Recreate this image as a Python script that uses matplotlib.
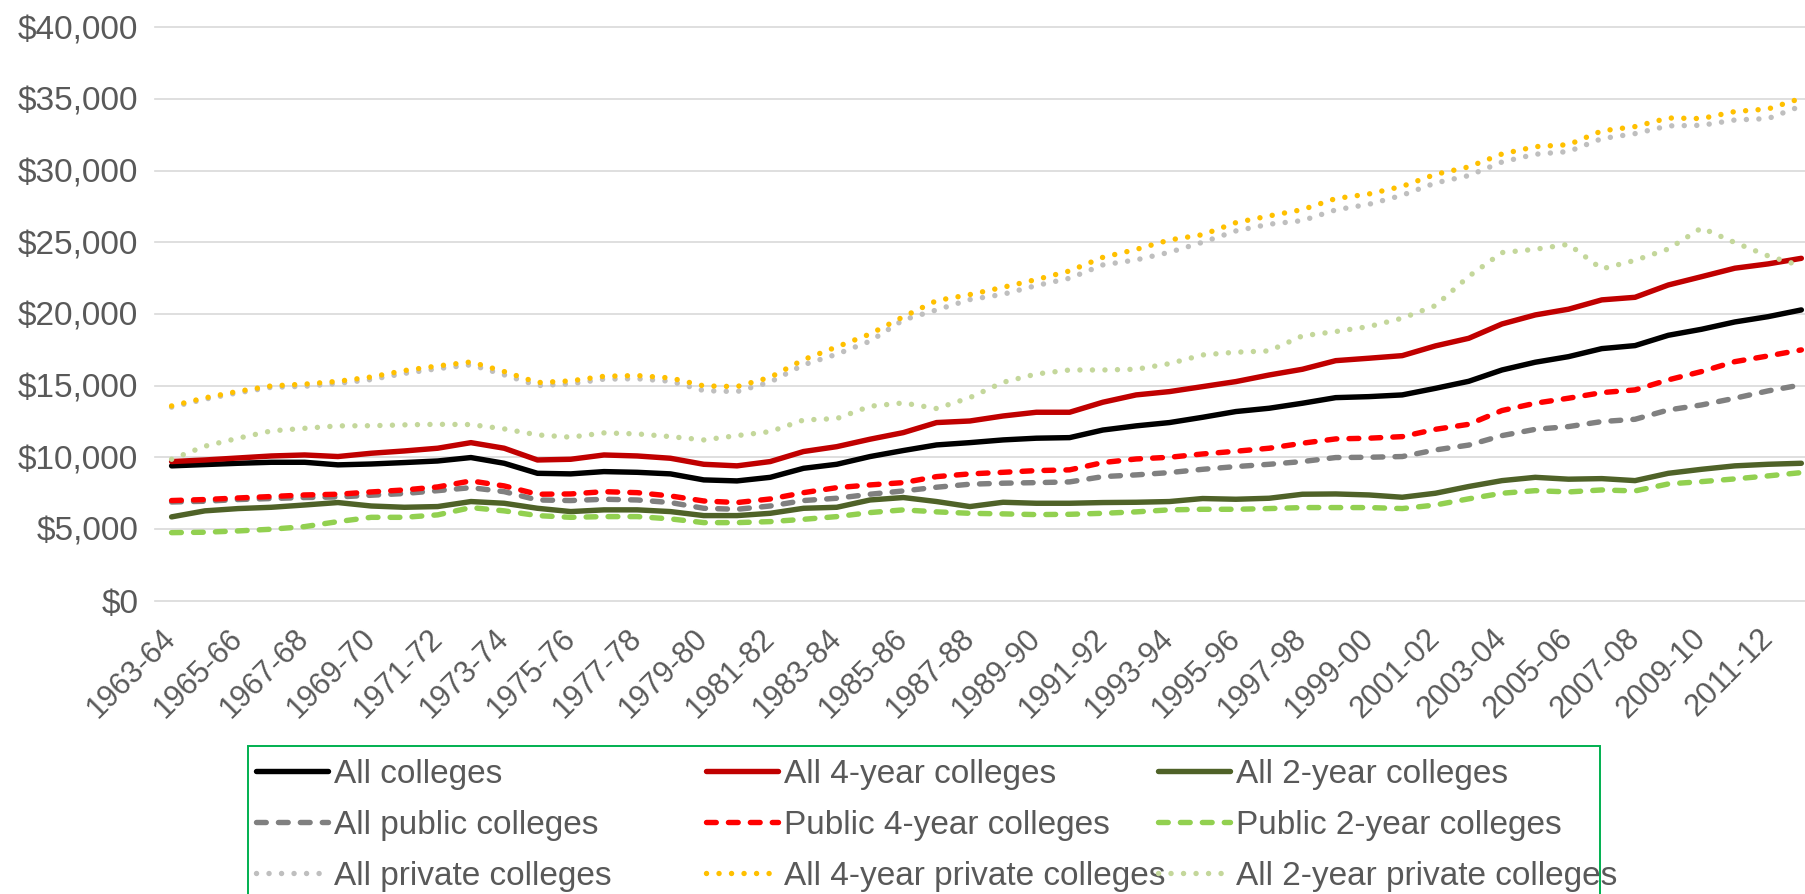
import numpy as np
import matplotlib.pyplot as plt
from matplotlib.patches import Rectangle
from matplotlib.ticker import StrMethodFormatter

plt.rcParams['font.family'] = ['Liberation Sans', 'DejaVu Sans']

# academic years (categories)
years = ["1963-64", "1964-65", "1965-66", "1966-67", "1967-68", "1968-69", "1969-70", "1970-71",
         "1971-72", "1972-73", "1973-74", "1974-75", "1975-76", "1976-77", "1977-78", "1978-79",
         "1979-80", "1980-81", "1981-82", "1982-83", "1983-84", "1984-85", "1985-86", "1986-87",
         "1987-88", "1988-89", "1989-90", "1990-91", "1991-92", "1992-93", "1993-94", "1994-95",
         "1995-96", "1996-97", "1997-98", "1998-99", "1999-00", "2000-01", "2001-02", "2002-03",
         "2003-04", "2004-05", "2005-06", "2006-07", "2007-08", "2008-09", "2009-10", "2010-11",
         "2011-12", "2012-13"]

# values in thousands of dollars
all_colleges = [9.40, 9.49, 9.58, 9.65, 9.65, 9.47, 9.53, 9.63, 9.74, 9.98,
                9.58, 8.88, 8.84, 9.00, 8.95, 8.84, 8.42, 8.35, 8.60, 9.23,
                9.51, 10.05, 10.47, 10.86, 11.02, 11.21, 11.33, 11.37, 11.90, 12.19,
                12.42, 12.79, 13.19, 13.42, 13.77, 14.16, 14.23, 14.35, 14.81, 15.30,
                16.09, 16.63, 17.02, 17.58, 17.79, 18.51, 18.93, 19.44, 19.81, 20.28]
all_4yr = [9.70, 9.81, 9.95, 10.09, 10.16, 10.05, 10.28, 10.44, 10.63, 11.02,
           10.63, 9.81, 9.86, 10.16, 10.09, 9.93, 9.51, 9.40, 9.70, 10.40,
           10.74, 11.26, 11.72, 12.42, 12.53, 12.88, 13.14, 13.14, 13.84, 14.35,
           14.58, 14.93, 15.28, 15.74, 16.14, 16.74, 16.91, 17.09, 17.77, 18.30,
           19.30, 19.93, 20.33, 20.98, 21.16, 22.02, 22.60, 23.19, 23.49, 23.88]
all_2yr = [5.84, 6.26, 6.42, 6.51, 6.67, 6.84, 6.60, 6.51, 6.56, 6.91,
           6.79, 6.44, 6.21, 6.33, 6.33, 6.21, 5.93, 5.93, 6.09, 6.44,
           6.51, 7.02, 7.19, 6.91, 6.56, 6.86, 6.79, 6.79, 6.84, 6.86,
           6.91, 7.12, 7.07, 7.14, 7.42, 7.44, 7.37, 7.21, 7.49, 7.96,
           8.37, 8.60, 8.47, 8.51, 8.37, 8.88, 9.16, 9.40, 9.51, 9.58]
all_public = [6.88, 6.93, 7.05, 7.12, 7.19, 7.23, 7.35, 7.47, 7.67, 7.88,
              7.60, 7.02, 6.98, 7.07, 7.02, 6.84, 6.44, 6.37, 6.60, 6.98,
              7.14, 7.42, 7.65, 7.91, 8.12, 8.19, 8.23, 8.28, 8.65, 8.77,
              8.93, 9.16, 9.35, 9.51, 9.70, 9.98, 10.00, 10.05, 10.51, 10.85,
              11.51, 11.95, 12.14, 12.49, 12.65, 13.30, 13.65, 14.12, 14.63, 15.05]
public_4yr = [6.98, 7.05, 7.16, 7.26, 7.37, 7.42, 7.58, 7.72, 7.93, 8.35,
              8.00, 7.42, 7.44, 7.60, 7.53, 7.30, 6.95, 6.84, 7.09, 7.53,
              7.88, 8.07, 8.23, 8.65, 8.84, 8.95, 9.07, 9.12, 9.63, 9.88,
              10.00, 10.23, 10.42, 10.63, 10.98, 11.28, 11.33, 11.44, 11.95, 12.30,
              13.26, 13.77, 14.12, 14.51, 14.70, 15.40, 15.98, 16.67, 17.07, 17.49]
public_2yr = [4.74, 4.77, 4.86, 4.98, 5.16, 5.51, 5.81, 5.81, 5.98, 6.49,
              6.26, 5.93, 5.81, 5.86, 5.86, 5.70, 5.44, 5.44, 5.51, 5.67,
              5.86, 6.14, 6.33, 6.19, 6.09, 6.05, 6.00, 6.02, 6.09, 6.19,
              6.33, 6.37, 6.37, 6.42, 6.49, 6.49, 6.49, 6.42, 6.67, 7.10,
              7.49, 7.67, 7.58, 7.72, 7.65, 8.14, 8.30, 8.49, 8.70, 8.93]
all_private = [13.50, 14.05, 14.50, 14.88, 14.95, 15.15, 15.42, 15.85, 16.18, 16.45,
               15.75, 15.00, 15.12, 15.45, 15.48, 15.30, 14.65, 14.58, 15.25, 16.45,
               17.19, 18.10, 19.58, 20.28, 21.00, 21.37, 21.98, 22.49, 23.42, 23.77,
               24.30, 25.00, 25.79, 26.26, 26.51, 27.26, 27.65, 28.28, 29.14, 29.65,
               30.60, 31.14, 31.33, 32.23, 32.58, 33.12, 33.16, 33.53, 33.63, 34.51]
private_4yr = [13.58, 14.14, 14.60, 14.98, 15.10, 15.30, 15.60, 16.05, 16.37, 16.65,
               15.98, 15.21, 15.33, 15.65, 15.70, 15.53, 14.98, 14.93, 15.58, 16.81,
               17.70, 18.60, 19.80, 20.93, 21.35, 21.86, 22.40, 23.00, 23.95, 24.50,
               25.16, 25.53, 26.37, 26.84, 27.28, 28.05, 28.37, 28.90, 29.74, 30.26,
               31.16, 31.67, 31.81, 32.77, 33.07, 33.67, 33.63, 34.12, 34.30, 35.05]
private_2yr = [9.86, 10.77, 11.33, 11.84, 12.02, 12.19, 12.20, 12.26, 12.30, 12.28,
               11.98, 11.56, 11.40, 11.70, 11.63, 11.44, 11.21, 11.51, 11.79, 12.60,
               12.70, 13.56, 13.79, 13.40, 14.16, 15.23, 15.81, 16.09, 16.09, 16.14,
               16.53, 17.14, 17.33, 17.42, 18.47, 18.77, 19.12, 19.70, 20.58, 22.62,
               24.28, 24.51, 24.86, 23.14, 23.74, 24.53, 26.00, 24.98, 24.05, 23.35]

labels = ["All colleges", "All 4-year colleges", "All 2-year colleges",
          "All public colleges", "Public 4-year colleges", "Public 2-year colleges",
          "All private colleges", "All 4-year private colleges", "All 2-year private colleges"]
series = [all_colleges, all_4yr, all_2yr, all_public, public_4yr, public_2yr,
          all_private, private_4yr, private_2yr]
colors = ["#000000", "#C00000", "#4F6228", "#808080", "#FF0000", "#92D050",
          "#BFBFBF", "#FFC000", "#C4D79B"]

solid = "-"
dash = (0, (1.8, 2.25))
dot = (0, (0.01, 2.3))
styles = [solid, solid, solid, dash, dash, dash, dot, dot, dot]

text_col = "#595959"
fs = 24
lw = 3.9

fig = plt.figure(figsize=(18.06, 8.94), dpi=100)
ax = fig.add_axes([0.0858, 0.3282, 1 - 0.0858, 0.9695 - 0.3282])

x = np.arange(len(years))
handles = []
for vals, lab, col, ls in zip(series, labels, colors, styles):
    h, = ax.plot(x, np.array(vals) * 1000, color=col, lw=lw, linestyle=ls, label=lab,
                 solid_joinstyle="round", dash_capstyle="round", solid_capstyle="round")
    handles.append(h)

ax.set_xlim(-0.5, 49.14)
ax.set_ylim(0, 40000)
ax.set_yticks(np.arange(0, 40001, 5000))
ax.yaxis.set_major_formatter(StrMethodFormatter("${x:,.0f}"))
ax.yaxis.grid(True, color="#D9D9D9", lw=1.2)
ax.set_axisbelow(True)
for g in ax.get_ygridlines():
    g.set_clip_on(False)
for s in ax.spines.values():
    s.set_visible(False)

ax.set_xticks(x[::2])
ax.set_xticklabels(years[::2], rotation=45, ha="right", va="center", rotation_mode="anchor")
ax.tick_params(axis="x", length=0, pad=24, labelsize=22, labelcolor=text_col)
ax.tick_params(axis="y", length=0, pad=12, labelsize=fs, labelcolor=text_col)

# legend: three columns inside a green frame
fig.add_artist(Rectangle((248 / 1806, -0.05), (1600 - 248) / 1806, 0.05 + 1 - 746 / 894,
                         transform=fig.transFigure, fill=False, edgecolor="#00B050",
                         lw=1.4, clip_on=False))
col_x = [256 / 1806, 706 / 1806, 1158 / 1806]
for c in range(3):
    hs = [handles[c], handles[c + 3], handles[c + 6]]
    fig.legend(handles=hs, loc="upper left", bbox_to_anchor=(col_x[c], 1 - 759 / 894),
               frameon=False, fontsize=fs, labelcolor=text_col, borderpad=0,
               borderaxespad=0, handlelength=2.16, handletextpad=0.18,
               labelspacing=0.6)

fig.savefig("out.png", dpi=100)
